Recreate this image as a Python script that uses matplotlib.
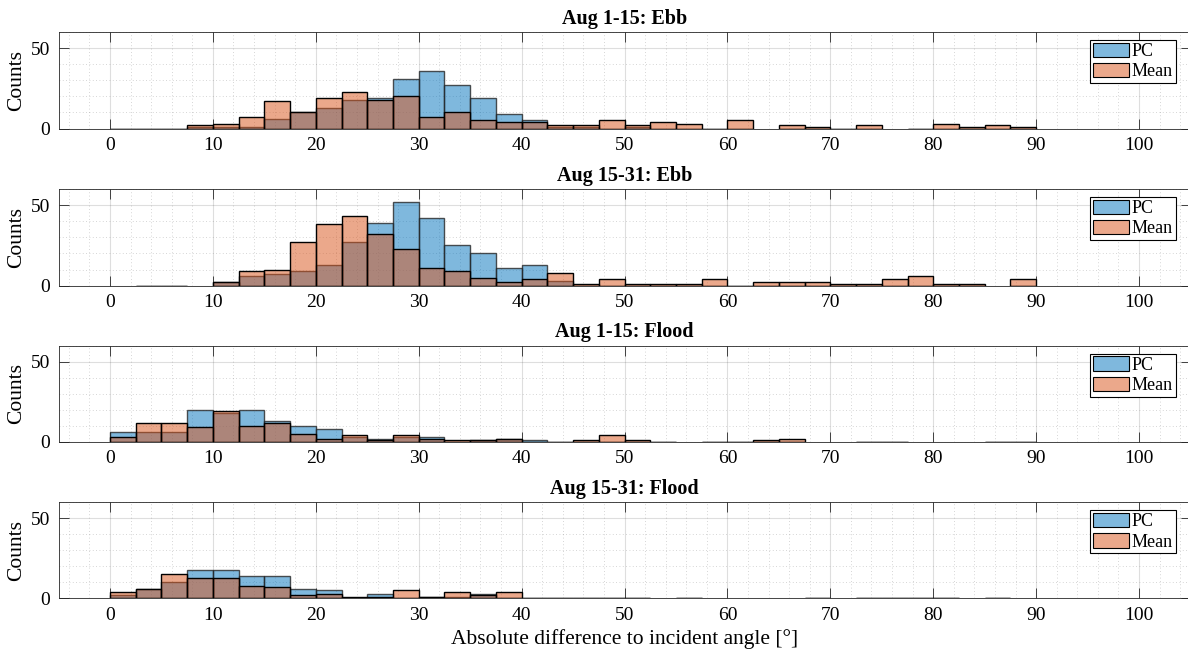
import matplotlib
matplotlib.use("Agg")
import matplotlib.pyplot as plt
import numpy as np
from matplotlib.colors import to_rgba
from matplotlib.patches import Patch
from matplotlib.ticker import MultipleLocator

plt.rcParams["font.family"] = ["Liberation Serif", "DejaVu Serif"]

nan = np.nan
bin_edges = np.arange(0, 92.5, 2.5)

titles = ["Aug 1-15: Ebb", "Aug 15-31: Ebb", "Aug 1-15: Flood", "Aug 15-31: Flood"]

# counts per 2.5 deg bin (nan = bin not drawn)
pc_ebb_1 = [0, 0, 0, 1, 1, 1, 6, 10, 13, 18, 19, 31, 36, 27, 19, 9, 5, 1,
            1, 0, 1, 0, 0, 0, 0, nan, 0, 0, 0, 0, nan, 0, 0, 0, 0, 0]
mean_ebb_1 = [0, 0, 0, 2, 3, 7, 17, 10, 19, 23, 18, 20, 7, 10, 5, 4, 4, 2,
              2, 5, 2, 4, 3, 0, 5, nan, 2, 1, 0, 2, nan, 0, 3, 1, 2, 1]

pc_ebb_2 = [nan, 0, 0, nan, 2, 6, 7, 9, 13, 27, 39, 52, 42, 25, 20, 11, 13, 3,
            0, 0, 0, 0, 0, 0, 0, 0, 0, 0, 0, 0, 0, 0, 0, 0, nan, 0]
mean_ebb_2 = [nan, 0, 0, nan, 2, 9, 10, 27, 38, 43, 32, 23, 11, 9, 5, 2, 4, 8,
              1, 4, 1, 1, 1, 4, 0, 2, 2, 2, 1, 1, 4, 6, 1, 1, nan, 4]

pc_flood_1 = [6, 6, 6, 20, 18, 20, 13, 10, 8, 3, 2, 3, 3, 0, 1, 2, 1, 0,
              0, 0, 0, 0, nan, 0, 0, 0, 0, nan, nan, 0, 0, nan, nan, nan, 0, 0]
mean_flood_1 = [3, 12, 12, 9, 19, 10, 12, 5, 2, 4, 1, 4, 2, 1, 1, 2, 0, 0,
                1, 4, 1, 0, nan, 0, 0, 1, 2, nan, nan, 0, 0, nan, nan, nan, 0, 0]

pc_flood_2 = [2, 6, 10, 18, 18, 14, 14, 6, 5, 0, 3, 0, 1, 1, 3, 0, 0, 0,
              0, 0, 0, nan, 0, nan, nan, nan, nan, 0, nan, 0, 0, 0, 0, nan, 0, nan]
mean_flood_2 = [4, 6, 15, 13, 13, 8, 7, 2, 3, 1, 1, 5, 1, 4, 2, 4, 0, 0,
                0, 0, 0, nan, 0, nan, nan, nan, nan, 0, nan, 0, 0, 0, 0, nan, 0, nan]

pc_data = [pc_ebb_1, pc_ebb_2, pc_flood_1, pc_flood_2]
mean_data = [mean_ebb_1, mean_ebb_2, mean_flood_1, mean_flood_2]

blue = to_rgba("#0072BD", 0.5)
orange = to_rgba("#D95319", 0.5)

W, H = 1188, 661
fig = plt.figure(figsize=(W / 100, H / 100), dpi=100)
left_px, right_px = 58.5, 1190.5
tops = [32, 189, 345.7, 502.3]
bottoms = [128.5, 285.7, 441.7, 598.3]


def draw_hist(ax, vals, face, edge):
    vals = np.asarray(vals, dtype=float)
    ok = np.isfinite(vals)
    ax.bar(bin_edges[:-1][ok], vals[ok], width=2.5, align="edge",
           facecolor=face, edgecolor=edge, linewidth=1.0, zorder=3)


for i in range(4):
    ax = fig.add_axes([left_px / W, 1 - bottoms[i] / H,
                       (right_px - left_px) / W, (bottoms[i] - tops[i]) / H])
    draw_hist(ax, pc_data[i], blue, (0.15, 0.15, 0.15, 0.8))
    draw_hist(ax, mean_data[i], orange, "black")

    ax.set_xlim(-5, 105)
    ax.set_ylim(0, 60)
    ax.set_xticks(np.arange(0, 101, 10))
    ax.set_yticks([0, 50])
    ax.xaxis.set_minor_locator(MultipleLocator(2))
    ax.yaxis.set_minor_locator(MultipleLocator(10))
    ax.tick_params(which="major", direction="in", top=True, right=True,
                   length=7.5, width=0.6, color="#262626", labelsize=14, pad=6)
    ax.tick_params(which="minor", length=0)
    ax.grid(which="major", color="#262626", alpha=0.15, linewidth=0.8)
    ax.grid(which="minor", color="#262626", alpha=0.25, linestyle=(0, (1, 3)), linewidth=0.6)
    ax.set_axisbelow(True)
    for s in ax.spines.values():
        s.set_color("#262626")
        s.set_linewidth(0.6)
        s.set_zorder(2.5)
    ax.set_ylabel("Counts", fontsize=15.5, labelpad=3)
    ax.set_title(titles[i], fontsize=14.5, fontweight="bold", pad=6)
    handles = [Patch(facecolor=blue, edgecolor="black", linewidth=0.8, label="PC"),
               Patch(facecolor=orange, edgecolor="black", linewidth=0.8, label="Mean")]
    leg = ax.legend(handles=handles, loc="upper right", bbox_to_anchor=(0.987, 0.917),
                    fontsize=13, frameon=True, fancybox=False, framealpha=1,
                    edgecolor="black", borderpad=0.15, labelspacing=0.15,
                    handlelength=2.0, handleheight=0.85, handletextpad=0.15,
                    borderaxespad=0)
    leg.get_frame().set_linewidth(0.8)
    leg.set_zorder(5)
    if i == 3:
        ax.set_xlabel("Absolute difference to incident angle [°]", fontsize=15.5, labelpad=4)

fig.savefig("out.png", dpi=100)
